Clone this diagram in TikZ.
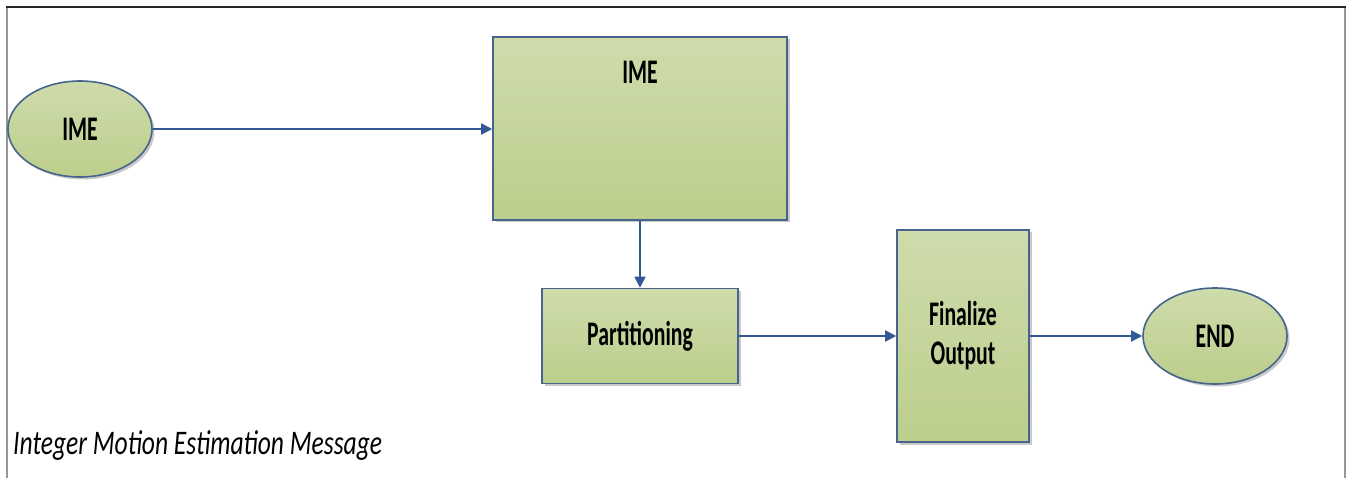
\documentclass[tikz,border=0pt]{standalone}
\usepackage{fontspec}
\newfontfamily\lblfont[FakeStretch=0.63]{Carlito}
\newfontfamily\capfont[FakeStretch=0.74]{Carlito}
\usetikzlibrary{shapes.geometric,arrows.meta,shadows}
\definecolor{fillTop}{RGB}{206,220,172}
\definecolor{fillBot}{RGB}{188,206,140}
\definecolor{edgeBlue}{RGB}{70,100,140}
\definecolor{arrBlue}{RGB}{50,88,150}
\definecolor{frameGray}{RGB}{150,150,150}
\tikzset{
  shapebase/.style={draw=edgeBlue, line width=1.6pt, top color=fillTop, bottom color=fillBot,
    drop shadow={shadow xshift=2.5pt, shadow yshift=-2.5pt, fill=black!35, opacity=0.6},
    inner sep=0pt, font=\lblfont\bfseries\fontsize{34.5}{39}\selectfont, align=center},
  procbox/.style={shapebase, rectangle},
  terminal/.style={shapebase, ellipse, minimum width=144pt, minimum height=96pt},
  lbl/.style={font=\lblfont\bfseries\fontsize{34.5}{39}\selectfont, inner sep=0pt},
  flow/.style={draw=arrBlue, line width=1.8pt, -{Triangle[length=11pt,width=11pt]}},
}
\begin{document}
\begin{tikzpicture}[x=1pt,y=-1pt]
\useasboundingbox (0,0) rectangle (1348,478);
\fill[white] (0,0) rectangle (1348,478);
% frame
\draw[frameGray, line width=1.6pt] (7,478) -- (7,7);
\draw[frameGray, line width=1.6pt] (1345,7) -- (1345,478);
\draw[black!85, line width=2pt] (6,7) -- (1346,7);
% nodes
\node[terminal] (ime) at (80,129) {IME};
\node[procbox, minimum width=294pt, minimum height=183pt] (imebox) at (640,128.5) {};
\node[lbl] (imelbl) at (640,72) {IME};
\node[procbox, minimum width=196pt, minimum height=95pt] (part) at (640,336) {Partitioning};
\node[procbox, minimum width=132pt, minimum height=212pt] (fin) at (963,336) {Finalize\\Output};
\node[terminal] (endn) at (1215,336) {END};
\node[font=\capfont\itshape\fontsize{34.5}{40}\selectfont, anchor=west, inner sep=0pt] (cap) at (13,446) {Integer Motion Estimation Message};
% connectors
\draw[flow] (ime.east) -- (ime.east -| imebox.west);
\draw[flow] (imebox.south) -- (part.north);
\draw[flow] (part.east) -- (part.east -| fin.west);
\draw[flow] (fin.east |- endn.west) -- (endn.west);
\end{tikzpicture}
\end{document}
